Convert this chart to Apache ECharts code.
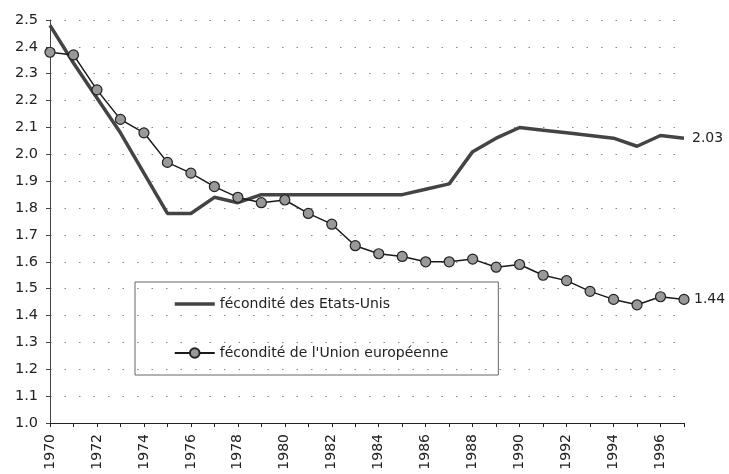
<!DOCTYPE html>
<html>
<head>
<meta charset="utf-8">
<script src="https://cdn.jsdelivr.net/npm/echarts@6/dist/echarts.min.js"></script>
<style>
  html, body { margin: 0; padding: 0; background: #fff; }
  #chart { width: 729px; height: 474px; }
</style>
</head>
<body>
<div id="chart"></div>
<script>
// années
const years = [1970, 1971, 1972, 1973, 1974, 1975, 1976, 1977, 1978, 1979,
  1980, 1981, 1982, 1983, 1984, 1985, 1986, 1987, 1988, 1989,
  1990, 1991, 1992, 1993, 1994, 1995, 1996, 1997];

// fécondité des Etats-Unis
const usValues = [2.48, 2.34, 2.21, 2.08, 1.93, 1.78, 1.78, 1.84, 1.82, 1.85,
  1.85, 1.85, 1.85, 1.85, 1.85, 1.85, 1.87, 1.89, 2.01, 2.06,
  2.10, 2.09, 2.08, 2.07, 2.06, 2.03, 2.07, 2.06];

// fécondité de l'Union européenne
const euValues = [2.38, 2.37, 2.24, 2.13, 2.08, 1.97, 1.93, 1.88, 1.84, 1.82,
  1.83, 1.78, 1.74, 1.66, 1.63, 1.62, 1.60, 1.60, 1.61, 1.58,
  1.59, 1.55, 1.53, 1.49, 1.46, 1.44, 1.47, 1.46];

const seriesNames = ['fécondité des Etats-Unis', "fécondité de l'Union européenne"];
const endLabels = ['2.03', '1.44'];

const font = 'DejaVu Sans';
const chart = echarts.init(document.getElementById('chart'));

chart.setOption({
  animation: false,
  textStyle: { fontFamily: font },
  grid: { left: 50, right: 45, top: 20, bottom: 51 },
  legend: {
    orient: 'vertical',
    left: 135,
    top: 282,
    padding: [15, 50, 15, 38],
    itemGap: 35,
    itemWidth: 40,
    itemHeight: 12,
    borderColor: '#666',
    borderWidth: 1,
    textStyle: { fontFamily: font, fontSize: 14, color: '#222' },
    data: [
      { name: seriesNames[0], itemStyle: { opacity: 0 }, lineStyle: { width: 3.5, color: '#444' } },
      { name: seriesNames[1] }
    ]
  },
  xAxis: {
    type: 'value',
    min: 1970,
    max: 1997,
    interval: 1,
    splitLine: { show: false },
    axisLine: { lineStyle: { color: '#222', width: 1 } },
    axisTick: { length: 4, lineStyle: { color: '#222' } },
    axisLabel: {
      rotate: 90,
      margin: 11,
      fontSize: 14,
      color: '#222',
      fontFamily: font,
      formatter: v => (v % 2 === 0 ? String(v) : '')
    }
  },
  yAxis: {
    type: 'value',
    min: 1.0,
    max: 2.5,
    interval: 0.1,
    axisLine: { show: true, lineStyle: { color: '#444', width: 1 } },
    axisTick: { show: true, length: 4, lineStyle: { color: '#444' } },
    axisLabel: {
      margin: 12,
      fontSize: 14.5,
      color: '#222',
      fontFamily: font,
      formatter: v => v.toFixed(1)
    },
    splitLine: {
      show: true,
      lineStyle: { color: '#888', width: 1.2, type: [1.5, 13] }
    }
  },
  series: [
    {
      name: seriesNames[0],
      type: 'line',
      data: years.map((y, i) => [y, usValues[i]]),
      showSymbol: false,
      symbol: 'none',
      lineStyle: { color: '#444', width: 3.5 },
      itemStyle: { color: '#444' },
      endLabel: {
        show: true,
        formatter: () => endLabels[0],
        distance: 8,
        fontSize: 14,
        color: '#222',
        fontFamily: font
      },
      z: 2
    },
    {
      name: seriesNames[1],
      type: 'line',
      data: years.map((y, i) => [y, euValues[i]]),
      symbol: 'circle',
      symbolSize: 10,
      lineStyle: { color: '#1a1a1a', width: 1.5 },
      itemStyle: { color: '#999', borderColor: '#222', borderWidth: 1.2 },
      endLabel: {
        show: true,
        formatter: () => endLabels[1],
        distance: 10,
        fontSize: 14,
        color: '#222',
        fontFamily: font
      },
      z: 3
    }
  ]
});
</script>
</body>
</html>
